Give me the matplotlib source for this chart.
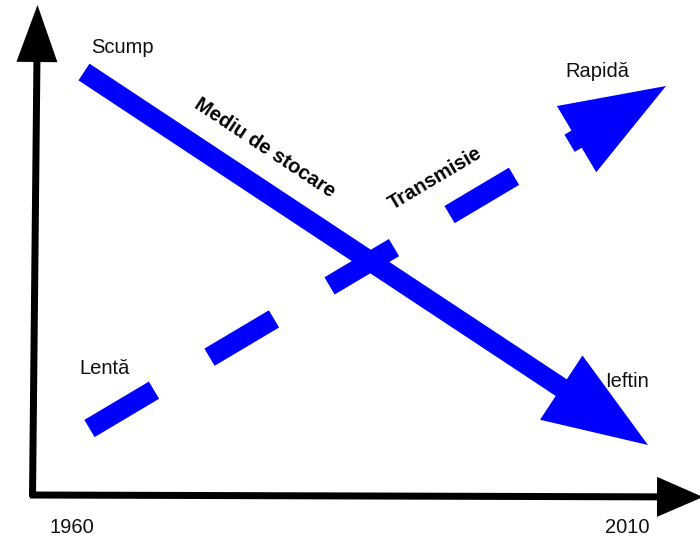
import numpy as np
import matplotlib
matplotlib.use("Agg")
import matplotlib.pyplot as plt
from matplotlib.patches import FancyArrow, Polygon

plt.rcParams['font.family'] = ['Liberation Sans', 'DejaVu Sans']
plt.rcParams['lines.scale_dashes'] = False

# Diagram data (pixel-space coordinates of the schematic)
axis_names = ["vertical", "horizontal"]
axis_start = [(32.5, 497.0), (30.0, 495.0)]
axis_tip = [(37.5, 5.0), (703.0, 497.0)]

series = ["Mediu de stocare", "Transmisie"]
series_start = [(84.0, 72.0), (89.5, 428.5)]
series_tip = [(648.0, 445.0), (666.0, 86.0)]
series_dashed = [False, True]

corner_labels = ["Scump", "Ieftin", "Lentă", "Rapidă"]
corner_pos = [(122, 53), (627, 387), (105, 374), (597, 77)]
year_labels = ["1960", "2010"]
year_pos = [(71.5, 533), (627, 533)]

W, H = 700, 536
fig = plt.figure(figsize=(W / 100, H / 100), dpi=100)
ax = fig.add_axes([0, 0, 1, 1])
ax.set_xlim(0, W)
ax.set_ylim(H, 0)
ax.axis('off')

BLUE = '#0000FF'
SHAFT = 20
HEAD_W = 77
HEAD_L = 104

# axes arrows
axis_heads = [(41, 57), (40, 46)]
for (x0, y0), (x1, y1), (hw, hl) in zip(axis_start, axis_tip, axis_heads):
    ax.add_patch(FancyArrow(x0, y0, x1 - x0, y1 - y0, width=7, head_width=hw,
                            head_length=hl, length_includes_head=True,
                            color='black', lw=0))


def head_polygon(start, tip):
    s = np.array(start); t = np.array(tip)
    d = (t - s) / np.linalg.norm(t - s)
    n = np.array([-d[1], d[0]])
    base = t - d * HEAD_L
    return [base + n * HEAD_W / 2, t, base - n * HEAD_W / 2]


px2pt = 72 / 100
for name, s, t, dashed in zip(series, series_start, series_tip, series_dashed):
    if not dashed:
        ax.add_patch(FancyArrow(s[0], s[1], t[0] - s[0], t[1] - s[1], width=SHAFT,
                                head_width=HEAD_W, head_length=HEAD_L,
                                length_includes_head=True, color=BLUE, lw=0))
    else:
        sv = np.array(s); tv = np.array(t)
        d = (tv - sv) / np.linalg.norm(tv - sv)
        base = tv - d * (HEAD_L - 2)
        ax.plot([sv[0], base[0]], [sv[1], base[1]], color=BLUE,
                lw=SHAFT * px2pt, solid_capstyle='butt', dash_capstyle='butt',
                linestyle=(0, (75 * px2pt, 64.6 * px2pt)))
        ax.add_patch(Polygon(head_polygon(s, t), closed=True, color=BLUE, lw=0))

# labels
for txt, (x, y) in zip(corner_labels, corner_pos):
    ax.text(x, y, txt, fontsize=14.5, ha='center', va='baseline', color='#111111')
for txt, (x, y) in zip(year_labels, year_pos):
    ax.text(x, y, txt, fontsize=14.5, ha='center', va='baseline', color='#111111')

ax.text(265, 148, "Mediu de stocare", fontsize=14.5, fontweight='bold',
        rotation=-33.5, rotation_mode='anchor', ha='center', va='center')
ax.text(435, 178, "Transmisie", fontsize=14.5, fontweight='bold',
        rotation=30.7, rotation_mode='anchor', ha='center', va='center')

fig.savefig('out.png', dpi=100)
